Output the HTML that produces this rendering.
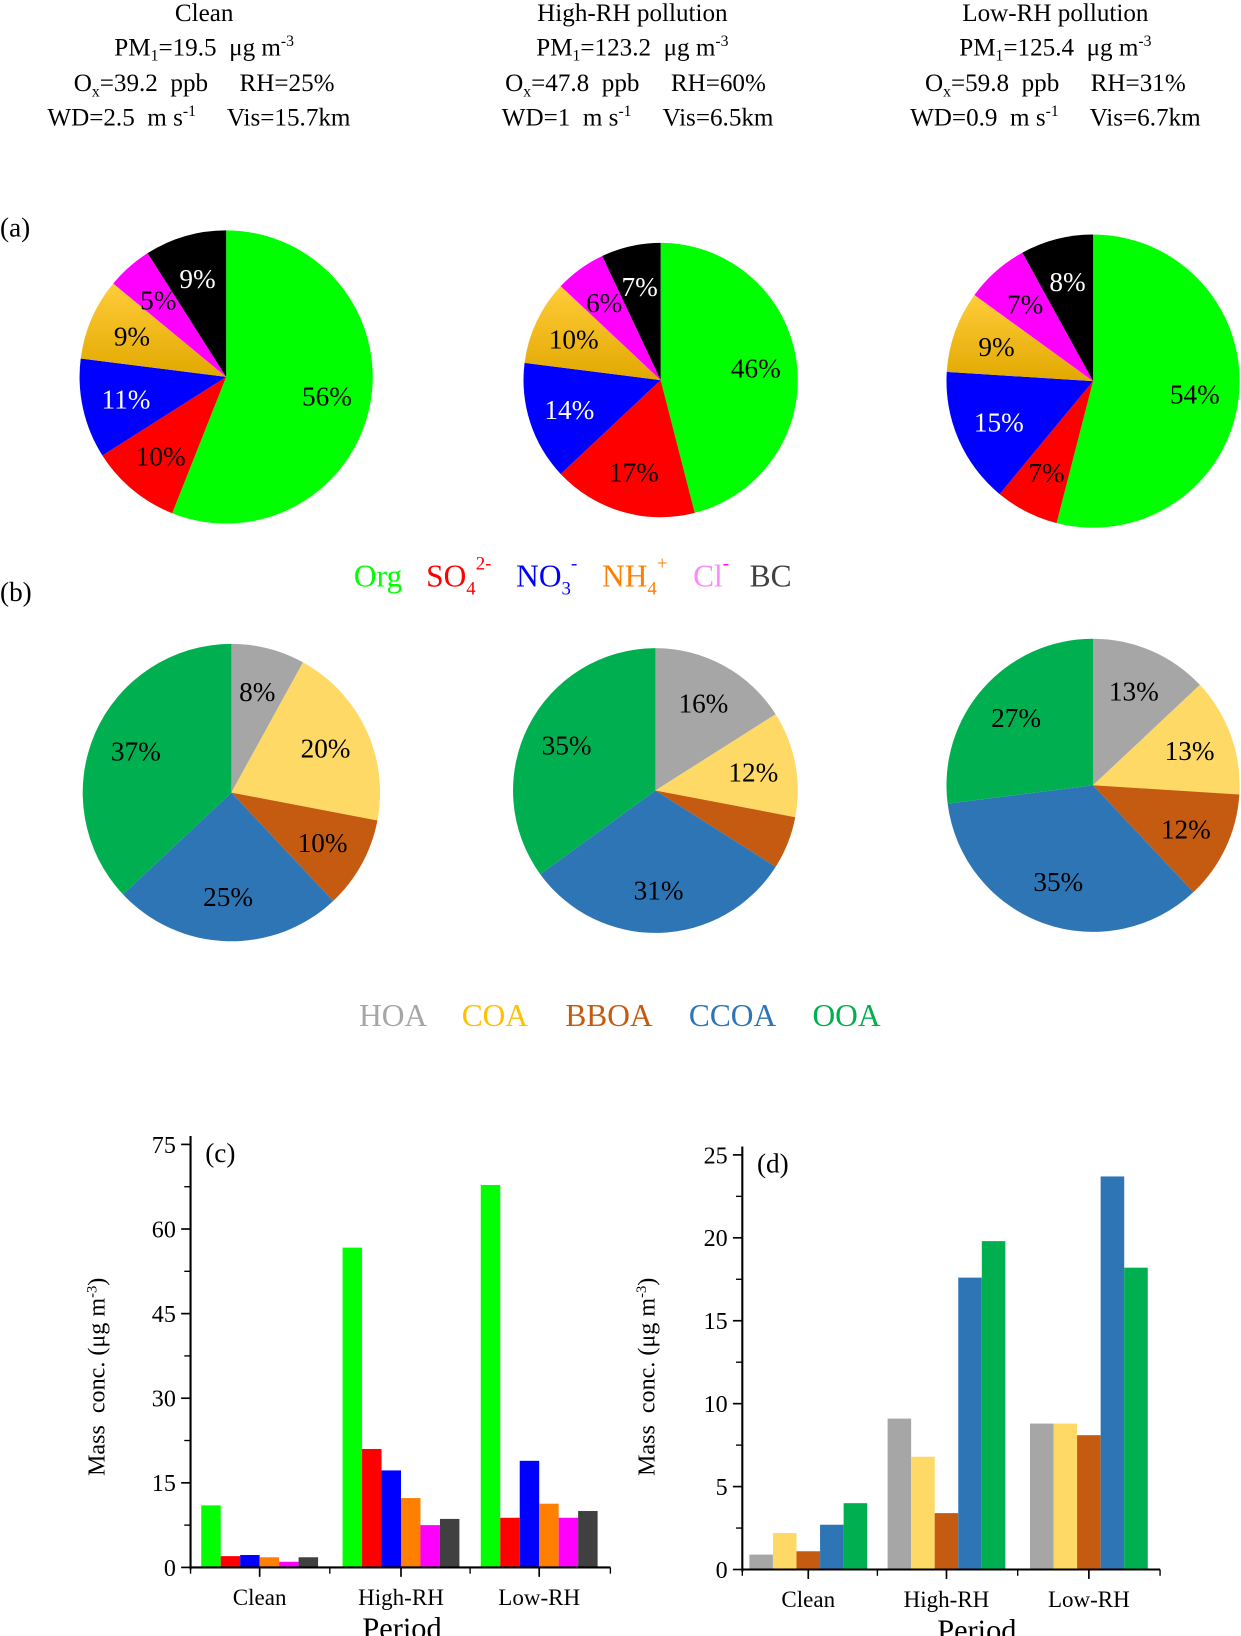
<!DOCTYPE html>
<html><head><meta charset="utf-8"><style>
html,body{margin:0;padding:0;background:#fff;}
svg{display:block;font-family:"Liberation Serif",serif;}
text{white-space:pre;}
</style></head><body>
<svg id="fig" width="1241" height="1636" viewBox="0 0 1185.3 1562.5" preserveAspectRatio="none" xmlns="http://www.w3.org/2000/svg" xml:space="preserve">
<defs>
<linearGradient id="nh4g" x1="0" y1="0" x2="0" y2="1"><stop offset="0" stop-color="#ffcd3a"/><stop offset="1" stop-color="#e2a800"/></linearGradient>
</defs>
<g font-size="24" text-anchor="middle">
<text x="195" y="20">Clean</text>
<text x="195" y="53">PM<tspan font-size="15" dy="5">1</tspan><tspan dy="-5">=19.5  μg m</tspan><tspan font-size="15" dy="-9">-3</tspan></text>
<text x="195" y="87">O<tspan font-size="15" dy="5">x</tspan><tspan dy="-5">=39.2  ppb     RH=25%</tspan></text>
<text x="190" y="120">WD=2.5  m s<tspan font-size="15" dy="-9">-1</tspan><tspan dy="9">     Vis=15.7km</tspan></text>
</g>
<g font-size="24" text-anchor="middle">
<text x="604" y="20">High-RH pollution</text>
<text x="604" y="53">PM<tspan font-size="15" dy="5">1</tspan><tspan dy="-5">=123.2  μg m</tspan><tspan font-size="15" dy="-9">-3</tspan></text>
<text x="607" y="87">O<tspan font-size="15" dy="5">x</tspan><tspan dy="-5">=47.8  ppb     RH=60%</tspan></text>
<text x="609" y="120">WD=1  m s<tspan font-size="15" dy="-9">-1</tspan><tspan dy="9">     Vis=6.5km</tspan></text>
</g>
<g font-size="24" text-anchor="middle">
<text x="1008" y="20">Low-RH pollution</text>
<text x="1008" y="53">PM<tspan font-size="15" dy="5">1</tspan><tspan dy="-5">=125.4  μg m</tspan><tspan font-size="15" dy="-9">-3</tspan></text>
<text x="1008" y="87">O<tspan font-size="15" dy="5">x</tspan><tspan dy="-5">=59.8  ppb     RH=31%</tspan></text>
<text x="1008" y="120">WD=0.9  m s<tspan font-size="15" dy="-9">-1</tspan><tspan dy="9">     Vis=6.7km</tspan></text>
</g>
<text x="0" y="226" font-size="26">(a)</text>
<text x="0" y="574" font-size="26">(b)</text>
<g id="pies"></g>
<g font-size="30">
<text x="338" y="560" fill="#00ff00">Org</text>
<text x="407" y="560" fill="#ff0000">SO<tspan font-size="18" dy="8">4</tspan><tspan font-size="18" dy="-24">2-</tspan></text>
<text x="493" y="560" fill="#0000ff">NO<tspan font-size="18" dy="8">3</tspan><tspan font-size="18" dy="-24">-</tspan></text>
<text x="575" y="560" fill="#ff8000">NH<tspan font-size="18" dy="8">4</tspan><tspan font-size="18" dy="-24">+</tspan></text>
<text x="662" y="560" fill="#ff88ff">Cl<tspan font-size="18" dy="-16" fill="#ff00ff">-</tspan></text>
<text x="716" y="560" fill="#404040">BC</text>
</g>
<g font-size="30">
<text x="343" y="980" fill="#a6a6a6">HOA</text>
<text x="441" y="980" fill="#ffc000">COA</text>
<text x="540" y="980" fill="#c55a11">BBOA</text>
<text x="658" y="980" fill="#2e75b6">CCOA</text>
<text x="776" y="980" fill="#00b050">OOA</text>
</g>
<g id="chartc"></g>
<g id="chartd"></g>
</svg>
<script>
const NS='http://www.w3.org/2000/svg';
const pieA1=[56,10,11,9,5,9];
const pieA2=[46,17,14,10,6,7];
const pieA3=[54,7,15,9,7,8];
const pieB1=[8,20,10,25,37];
const pieB2=[16,12,6,31,35];
const pieB3=[13,13,12,35,27];
const catsPeriod=['Clean','High-RH','Low-RH'];
const ionNames=['Org','SO4','NO3','NH4','Cl','BC'];
const oaNames=['HOA','COA','BBOA','CCOA','OOA'];
const cOrg=[11,56.7,67.8];
const cSO4=[2,21,8.8];
const cNO3=[2.2,17.2,18.9];
const cNH4=[1.8,12.3,11.3];
const cCl=[1,7.5,8.8];
const cBC=[1.8,8.6,10];
const dHOA=[0.9,9.1,8.8];
const dCOA=[2.2,6.8,8.8];
const dBBOA=[1.1,3.4,8.1];
const dCCOA=[2.7,17.6,23.7];
const dOOA=[4.0,19.8,18.2];
const cTicks=[0,15,30,45,60,75];
const dTicks=[0,5,10,15,20,25];

const ionCols=['#00ff00','#ff0000','#0000ff','url(#nh4g)','#ff00ff','#000000'];
const ionText=['#000','#000','#fff','#000','#000','#fff'];
const oaCols=['#a6a6a6','#ffd966','#c55a11','#2e75b6','#00b050'];

function el(tag,attrs,parent){const e=document.createElementNS(NS,tag);for(const k in attrs)e.setAttribute(k,attrs[k]);parent.appendChild(e);return e;}
const pies=document.getElementById('pies');
function pie(vals,cx,cy,r,cols,tcols,names,name,skipSmall){
  const g=el('g',{},pies);
  
  
  const tot=vals.reduce((a,b)=>a+b,0);let a0=0;
  vals.forEach((v,i)=>{
    const a1=a0+v/tot*2*Math.PI;
    const x0=cx+r*Math.sin(a0),y0=cy-r*Math.cos(a0),x1=cx+r*Math.sin(a1),y1=cy-r*Math.cos(a1);
    const large=(a1-a0)>Math.PI?1:0;
    const p=el('path',{d:`M${cx},${cy}L${x0},${y0}A${r},${r} 0 ${large} 1 ${x1},${y1}Z`,fill:cols[i]},g);
    
    
    if(!(skipSmall&&v<7)){
      const am=(a0+a1)/2,lr=r*0.7;
      const t=el('text',{x:cx+lr*Math.sin(am),y:cy-lr*Math.cos(am)+9,'text-anchor':'middle','font-size':'26',fill:tcols?tcols[i]:'#000'},g);
      t.textContent=v+'%';
      
      
    }
    a0=a1;
  });
}
pie(pieA1,216,360,140,ionCols,ionText,ionNames,'pie-clean-species',false);
pie(pieA2,631,363,131,ionCols,ionText,ionNames,'pie-high-rh-species',false);
pie(pieA3,1044,364,140,ionCols,ionText,ionNames,'pie-low-rh-species',false);
pie(pieB1,221,757,142,oaCols,null,oaNames,'pie-clean-oa',false);
pie(pieB2,626,755,136,oaCols,null,oaNames,'pie-high-rh-oa',true);
pie(pieB3,1044,750,140,oaCols,null,oaNames,'pie-low-rh-oa',false);

function bars(gid,name,series,cols,sNames,ticks,ax){
  const g=document.getElementById(gid);
  
  
  const ymax=ticks[ticks.length-1];
  const Y=v=>ax.y0-(v/ymax)*(ax.y0-ax.yt);
  const n=series.length,bw=ax.bw;
  catsPeriod.forEach((c,ci)=>{
    const cx=ax.centers[ci];
    series.forEach((s,si)=>{
      const x=cx-n*bw/2+si*bw;
      const r=el('rect',{x:x,y:Y(s[ci]),width:bw,height:ax.y0-Y(s[ci]),fill:cols[si]},g);
      
      
    });
  });
  const ya=el('line',{x1:ax.x0,x2:ax.x0,y1:ax.y0+2,y2:ax.yt-8,stroke:'#000','stroke-width':2},g);
  
  
  const step=ticks[1]-ticks[0];
  ticks.forEach((t,i)=>{
    el('line',{x1:ax.x0-9,x2:ax.x0,y1:Y(t),y2:Y(t),stroke:'#000','stroke-width':1.6},g);
    if(i<ticks.length-1) el('line',{x1:ax.x0-6,x2:ax.x0,y1:Y(t+step/2),y2:Y(t+step/2),stroke:'#000','stroke-width':1.3},g);
    const tl=el('text',{x:ax.x0-14,y:Y(t)+8,'text-anchor':'end','font-size':'23'},g);
    tl.textContent=t;
    
    
  });
  const xa=el('line',{x1:ax.x0,x2:ax.x1,y1:ax.y0,y2:ax.y0,stroke:'#000','stroke-width':2},g);
  
  
  ax.centers.forEach((cx,ci)=>{
    el('line',{x1:cx,x2:cx,y1:ax.y0,y2:ax.y0+9,stroke:'#000','stroke-width':1.6},g);
    const tl=el('text',{x:cx,y:ax.y0+36,'text-anchor':'middle','font-size':'22'},g);
    tl.textContent=catsPeriod[ci];
    
    
  });
  ax.minors.forEach(mx=>el('line',{x1:mx,x2:mx,y1:ax.y0,y2:ax.y0+6,stroke:'#000','stroke-width':1.3},g));
  const xt=el('text',{x:ax.px,y:ax.y0+68,'text-anchor':'middle','font-size':'29'},g);
  xt.textContent='Period';
  
  
  const yt=el('text',{x:0,y:0,'text-anchor':'middle','font-size':'23',transform:`translate(${ax.ylx},${ax.yly}) rotate(-90)`},g);
  yt.innerHTML='Mass  conc. (μg m<tspan font-size="14" dy="-8">-3</tspan><tspan dy="8">)</tspan>';
  
  
  const pl=el('text',{x:ax.x0+14,y:ax.yt+17,'font-size':'26'},g);
  pl.textContent=ax.label;
  
  
}
bars('chartc','bar-chart-species',[cOrg,cSO4,cNO3,cNH4,cCl,cBC],['#00ff00','#ff0000','#0000ff','#ff8000','#ff00ff','#404040'],ionNames,cTicks,
 {x0:182,x1:583,y0:1497,yt:1093,bw:18.6,centers:[248,383,515],minors:[182,315,449,583],px:384,ylx:100,yly:1315,label:'(c)'});
bars('chartd','bar-chart-oa',[dHOA,dCOA,dBBOA,dCCOA,dOOA],oaCols,oaNames,dTicks,
 {x0:709,x1:1108,y0:1499,yt:1103,bw:22.5,centers:[772,904,1040],minors:[709,838,972,1108],px:933,ylx:625,yly:1315,label:'(d)'});
</script>
</body></html>
